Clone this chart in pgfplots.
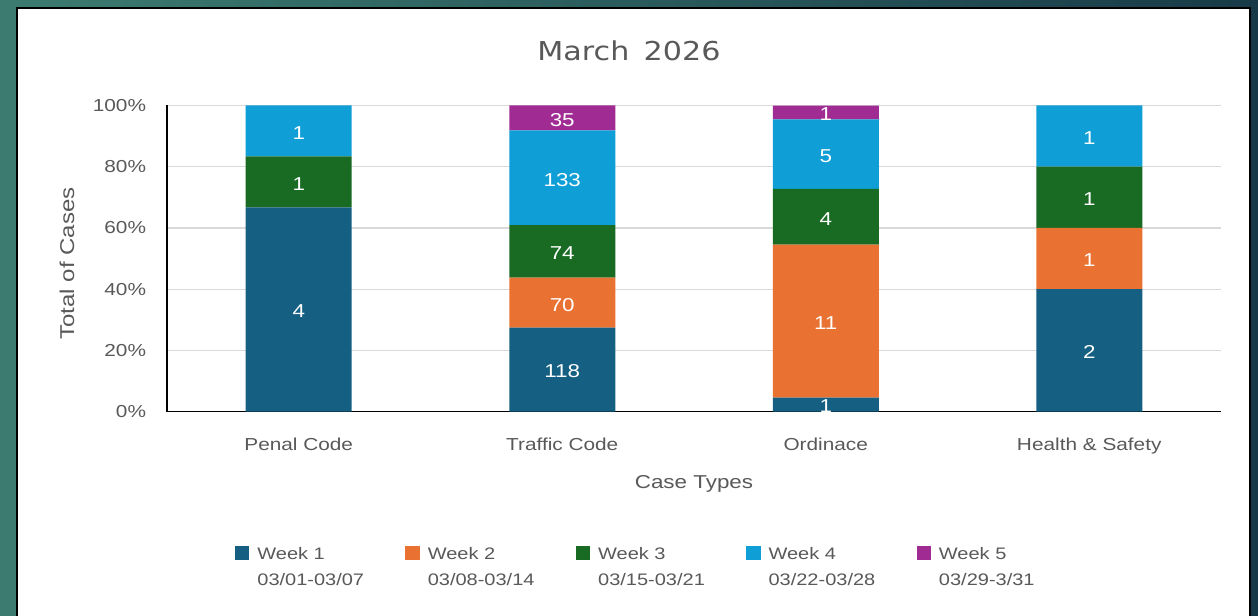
\documentclass[border=0pt]{standalone}
\usepackage{pgfplots}
\pgfplotsset{compat=1.18}
\usepackage{pgfplotstable}
\usepackage{fontspec}
\setmainfont{Liberation Sans}[FakeStretch=1.2]
\newfontfamily\titlefont{DejaVu Sans}[FakeStretch=1.16]
\definecolor{wkone}{HTML}{156082}
\definecolor{wktwo}{HTML}{E97132}
\definecolor{wkthree}{HTML}{196B24}
\definecolor{wkfour}{HTML}{0F9ED5}
\definecolor{wkfive}{HTML}{A02B93}
\definecolor{txtgray}{HTML}{595959}
\definecolor{gridgray}{HTML}{D9D9D9}
\definecolor{bgL}{RGB}{60,124,112}
\definecolor{bgR}{RGB}{24,58,72}
\pgfkeys{/pgf/number format/assume math mode=true}

% x: 0 Penal Code, 1 Traffic Code, 2 Ordinace, 3 Health & Safety
\pgfplotstableread{
x pct cnt
0 66.667 4
1 27.442 118
2 4.545 1
3 40 2
}\weekone
\pgfplotstableread{
x pct cnt
0 0 0
1 16.279 70
2 50 11
3 20 1
}\weektwo
\pgfplotstableread{
x pct cnt
0 16.667 1
1 17.209 74
2 18.182 4
3 20 1
}\weekthree
\pgfplotstableread{
x pct cnt
0 16.667 1
1 30.930 133
2 22.727 5
3 20 1
}\weekfour
\pgfplotstableread{
x pct cnt
0 0 0
1 8.140 35
2 4.545 1
3 0 0
}\weekfive

\begin{document}
\begin{tikzpicture}
\shade[left color=bgL, right color=bgR] (0,0) rectangle (943.5pt,461.25pt);
\useasboundingbox (0,0) rectangle (943.5pt,461.25pt);
\draw[black, line width=1.5pt, fill=white] (12.375pt,-5pt) rectangle (937.5pt,455.25pt);
\begin{axis}[
  at={(125.25pt,152.625pt)}, anchor=south west,
  scale only axis, width=790.5pt, height=229.5pt,
  ybar stacked, bar width=79.5pt,
  xmin=-0.5, xmax=3.5, ymin=0, ymax=100,
  clip=false,
  xtick={0,1,2,3},
  xticklabels={Penal Code, Traffic Code, Ordinace, Health \& Safety},
  ytick={0,20,40,60,80,100},
  yticklabels={0\%,20\%,40\%,60\%,80\%,100\%},
  axis x line*=bottom, axis y line*=left,
  axis line style={black, line width=1.1pt, -},
  ymajorgrids, grid style={gridgray, line width=0.9pt},
  major tick length=0pt,
  yticklabel style={font=\fontsize{13}{15}\selectfont, text=txtgray, anchor=east, xshift=-12.2pt},
  xticklabel style={font=\fontsize{13}{15}\selectfont, text=txtgray, anchor=base, yshift=-28.9pt},
  title={March\hspace{0.55em}2026},
  title style={at={(axis description cs:0.4383,1.122)}, anchor=base, font=\titlefont\fontsize{19.5}{22}\selectfont, text=txtgray},
  xlabel={Case Types},
  xlabel style={at={(axis description cs:0.5,-0.25)}, anchor=base, font=\fontsize{14}{16}\selectfont, text=txtgray},
  ylabel={Total of Cases},
  ylabel style={at={(axis description cs:-0.0949,0.4837)}, anchor=center, font=\fontsize{15}{18}\selectfont, text=txtgray},
  point meta=explicit,
  nodes near coords={\pgfmathfloatifflags{\pgfplotspointmeta}{0}{}{\pgfmathprintnumber{\pgfplotspointmeta}}},
  every node near coord/.append style={font=\fontsize{14}{15}\selectfont, text=white, anchor=center, yshift=-1.5pt},
  legend image code/.code={\fill[#1] (0pt,-0.3pt) rectangle (10.8pt,10.5pt);},
  legend columns=5,
  legend style={draw=none, fill=none, inner sep=0pt, outer sep=0pt,
    at={(rel axis cs:0.0645,-0.4395)}, anchor=north west,
    nodes={anchor=base west, text width=111pt, align=left, inner sep=0pt, text=txtgray, font=\fontsize{12.5}{19.5}\selectfont},
    /tikz/every odd column/.append style={column sep=6pt}},
]
\addplot[fill=wkone, draw=none] table[x=x, y=pct, meta=cnt] {\weekone};
\addlegendentry{Week 1\\03/01-03/07}
\addplot[fill=wktwo, draw=none] table[x=x, y=pct, meta=cnt] {\weektwo};
\addlegendentry{Week 2\\03/08-03/14}
\addplot[fill=wkthree, draw=none] table[x=x, y=pct, meta=cnt] {\weekthree};
\addlegendentry{Week 3\\03/15-03/21}
\addplot[fill=wkfour, draw=none] table[x=x, y=pct, meta=cnt] {\weekfour};
\addlegendentry{Week 4\\03/22-03/28}
\addplot[fill=wkfive, draw=none] table[x=x, y=pct, meta=cnt] {\weekfive};
\addlegendentry{Week 5\\03/29-3/31}
\end{axis}
\end{tikzpicture}
\end{document}
